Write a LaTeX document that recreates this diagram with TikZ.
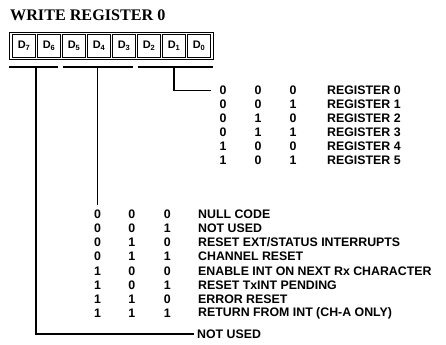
\documentclass[tikz,border=0pt]{standalone}
\usepackage{fontspec}
\setmainfont{Liberation Serif}
\newfontfamily\lsans{Liberation Sans}
\begin{document}
\begin{tikzpicture}[x=1bp,y=-1bp,
  lbl/.style={font=\lsans\bfseries\fontsize{12.4}{13}\selectfont, inner sep=0pt},
  bit/.style={font=\lsans\bfseries\fontsize{12.4}{13}\selectfont, inner sep=0pt, anchor=center},
  cellbox/.style={draw, line width=0.9bp, minimum width=22.5bp, minimum height=23bp, inner sep=0pt,
     font=\lsans\bfseries\fontsize{11}{12}\selectfont},
  wire/.style={line width=1.6bp}]
\useasboundingbox (0,0) rectangle (446,344);
\node[anchor=west, inner sep=0pt, font=\bfseries\fontsize{16.2}{18}\selectfont] (title) at (10,15) {WRITE REGISTER 0};
\draw[line width=1.6bp] (9.5,32.5) rectangle (213.5,59.5);
\foreach \i/\n in {0/7,1/6,2/5,3/4,4/3,5/2,6/1,7/0}{
  \node[cellbox] (d\n) at ({23.8+25*\i},46) {D\raisebox{-1.8bp}{\fontsize{7.5}{8}\selectfont\n}};
}
% brackets
\coordinate (b1l) at (9,67); \coordinate (b1r) at (58,67);
\coordinate (b2l) at (63,67); \coordinate (b2r) at (133,67);
\coordinate (b3l) at (138,67); \coordinate (b3r) at (213,67);
\draw[wire] (b1l) -- (b1r);
\draw[wire] (b2l) -- (b2r);
\draw[wire] (b3l) -- (b3r);
\coordinate (v1) at (36,67);
\coordinate (v2) at (97.5,67);
\coordinate (v3) at (174,67);
% register select table
\foreach \r/\a/\b/\c/\t in {0/0/0/0/REGISTER 0,1/0/0/1/REGISTER 1,2/0/1/0/REGISTER 2,3/0/1/1/REGISTER 3,4/1/0/0/REGISTER 4,5/1/0/1/REGISTER 5}{
  \node[bit] (ra\r) at (223,{90.5+14*\r}) {\a};
  \node[bit] (rb\r) at (258,{90.5+14*\r}) {\b};
  \node[bit] (rc\r) at (293,{90.5+14*\r}) {\c};
  \node[lbl, anchor=west] (rt\r) at (327,{90.5+14*\r}) {\t};
}
% command table
\foreach \r/\a/\b/\c/\t in {0/0/0/0/{NULL CODE},1/0/0/1/{NOT USED},2/0/1/0/{RESET EXT/STATUS INTERRUPTS},3/0/1/1/{CHANNEL RESET},4/1/0/0/{ENABLE INT ON NEXT Rx CHARACTER},5/1/0/1/{RESET TxINT PENDING},6/1/1/0/{ERROR RESET},7/1/1/1/{RETURN FROM INT (CH-A ONLY)}}{
  \node[bit] (ca\r) at (97.5,{214+14.2*\r}) {\a};
  \node[bit] (cb\r) at (131.7,{214+14.2*\r}) {\b};
  \node[bit] (cc\r) at (167.3,{214+14.2*\r}) {\c};
  \node[lbl, anchor=west] (ct\r) at (198,{214+14.2*\r}) {\t};
}
\node[lbl, anchor=west] (nu) at (197,334) {NOT USED};
\coordinate (c3) at (174,90.5);
\coordinate (c1) at (36,334);
\draw[wire] (v3) -- (c3) -- ([xshift=-8bp]ra0.west);
\draw[wire] (v2) -- ([yshift=4bp]ca0.north);
\draw[wire] (v1) -- (c1) -- ([xshift=-3bp]nu.west);
\end{tikzpicture}
\end{document}
